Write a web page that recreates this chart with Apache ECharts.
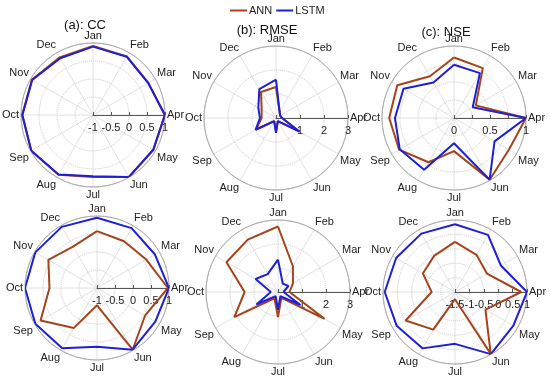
<!DOCTYPE html>
<html>
<head>
<meta charset="utf-8">
<script src="https://cdn.jsdelivr.net/npm/echarts@6/dist/echarts.min.js"></script>
<style>html,body{margin:0;padding:0;background:#fff}#c{width:550px;height:380px}</style>
</head>
<body>
<div id="c"></div>
<script>
var months = ['Jan','Feb','Mar','Apr','May','Jun','Jul','Aug','Sep','Oct','Nov','Dec'];
var seriesNames = ['ANN','LSTM'];
var panelTitles = ['(a): CC','(b): RMSE','(c): NSE'];

// top row
var ccTopANN    = [0.92, 0.88, 0.78, 0.99, 0.94, 0.99, 0.72, 0.92, 0.98, 0.97, 0.96, 0.85];
var ccTopLSTM   = [0.90, 0.87, 0.77, 1.00, 0.93, 0.99, 0.70, 0.91, 0.98, 0.96, 0.95, 0.82];
var rmseTopANN  = [1.29, 0.30, 0.20, 0.25, 1.12, 0.15, 0.58, 0.15, 0.96, 0.60, 0.69, 1.25];
var rmseTopLSTM = [1.60, 0.30, 0.20, 0.25, 1.13, 0.15, 0.62, 0.15, 0.98, 0.67, 0.85, 1.39];
var nseTopANN   = [0.84, 0.80, 0.35, 1.00, 0.88, 0.99, 0.46, 0.71, 0.88, 0.90, 0.91, 0.67];
var nseTopLSTM  = [0.74, 0.72, 0.30, 1.00, 0.65, 0.99, 0.35, 0.83, 0.87, 0.82, 0.81, 0.57];
// bottom row
var ccBotANN    = [0.58, 0.50, 0.58, 0.97, 0.54, 0.98, -0.52, 0.28, 0.81, 0.32, 0.56, 0.33];
var ccBotLSTM   = [0.95, 0.92, 0.86, 1.00, 0.87, 0.98, 0.63, 0.93, 0.98, 1.00, 0.98, 0.96];
var rmseBotANN  = [2.73, 1.24, 0.72, 0.48, 2.24, 0.28, 1.04, 0.30, 2.10, 1.39, 2.48, 2.52];
var rmseBotLSTM = [1.35, 0.40, 0.50, 0.23, 1.08, 0.20, 0.74, 0.20, 1.04, 0.30, 1.08, 0.86];
var nseBotANN   = [0.24, -0.01, -0.22, 0.80, -0.28, 0.98, -1.25, 0.01, 0.48, -0.69, -0.21, -0.05];
var nseBotLSTM  = [0.85, 0.79, 0.34, 1.00, 0.84, 0.99, 0.30, 0.76, 0.84, 0.94, 0.86, 0.84];

// radial scales per panel: [min, max, interval]
var ccScale = [-1, 1, 0.5];
var rmseScale = [0, 3, 1];
var nseTopScale = [0, 1, 0.25];
var nseBotScale = [-1.5, 1, 0.5];

var colors = ['#a3441c', '#1f1fd6'];

var panels = [
  {c:[93,115],  scale:ccScale,     data:[ccTopANN, ccTopLSTM],     lab:function(v){return String(v);}},
  {c:[276,118], scale:rmseScale,   data:[rmseTopANN, rmseTopLSTM], lab:function(v){return v===0?'':String(v);}},
  {c:[454,118], scale:nseTopScale, data:[nseTopANN, nseTopLSTM],   lab:function(v){return (Math.abs(v*2-Math.round(v*2))<1e-6)?String(v):'';}},
  {c:[97,288],  scale:ccScale,     data:[ccBotANN, ccBotLSTM],     lab:function(v){return String(v);}},
  {c:[278,292], scale:rmseScale,   data:[rmseBotANN, rmseBotLSTM], lab:function(v){return v===0?'':String(v);}},
  {c:[455,292], scale:nseBotScale, data:[nseBotANN, nseBotLSTM],   lab:function(v){return String(v);}}
];

function monthAngle(i){ return (270 + 30*i) % 360; }
function angleLabel(a){
  if (a >= 360) return '';
  var idx = ((Math.round(a/30) - 9) % 12 + 12) % 12;
  return months[idx];
}

var font = 'Liberation Sans';
var polar = [], angleAxis = [], radiusAxis = [], series = [];
panels.forEach(function(p, k){
  polar.push({center:p.c, radius:72});
  angleAxis.push({
    polarIndex:k, type:'value', min:0, max:360, interval:30, startAngle:0, clockwise:true,
    axisLine:{show:true, lineStyle:{color:'#999', width:1}},
    axisTick:{show:false},
    axisLabel:{show:true, formatter:angleLabel, fontSize:11, color:'#222', fontFamily:font, margin:2},
    splitLine:{show:true, lineStyle:{color:'#e2e2e2', width:1}}
  });
  radiusAxis.push({
    polarIndex:k, type:'value', min:p.scale[0], max:p.scale[1], interval:p.scale[2],
    axisLine:{show:true, lineStyle:{color:'#555', width:1}},
    axisTick:{show:true, length:3, lineStyle:{color:'#555'}},
    axisLabel:{show:true, formatter:p.lab, fontSize:11, color:'#222', fontFamily:font,
               margin:-7, verticalAlign:'top', align:'center'},
    splitLine:{show:true, lineStyle:{color:'#c8c8c8', type:'dotted', width:1}},
    z:5
  });
  p.data.forEach(function(arr, s){
    var pts = arr.map(function(v, i){ return [v, monthAngle(i)]; });
    pts.push([arr[0], monthAngle(0)]);
    series.push({
      name:seriesNames[s], type:'line', coordinateSystem:'polar', polarIndex:k,
      data:pts, showSymbol:false, symbol:'none', animation:false,
      lineStyle:{color:colors[s], width:2}, itemStyle:{color:colors[s]}, z:10+s
    });
  });
});

var chart = echarts.init(document.getElementById('c'), null, {renderer:'canvas'});
chart.setOption({
  backgroundColor:'#fff',
  animation:false,
  textStyle:{fontFamily:font},
  legend:{
    data:seriesNames, left:225, top:0, itemWidth:17, itemHeight:2, itemGap:4, icon:'rect',
    textStyle:{fontSize:11, color:'#222', fontFamily:font, padding:[0,0,0,-3]}
  },
  graphic:[
    {type:'text', x:85,  y:25, style:{text:panelTitles[0], align:'center', verticalAlign:'middle', font:'13px "Liberation Sans"', fill:'#111'}},
    {type:'text', x:267, y:30, style:{text:panelTitles[1], align:'center', verticalAlign:'middle', font:'13px "Liberation Sans"', fill:'#111'}},
    {type:'text', x:446, y:32, style:{text:panelTitles[2], align:'center', verticalAlign:'middle', font:'13px "Liberation Sans"', fill:'#111'}}
  ],
  polar:polar, angleAxis:angleAxis, radiusAxis:radiusAxis, series:series
});
</script>
</body>
</html>
